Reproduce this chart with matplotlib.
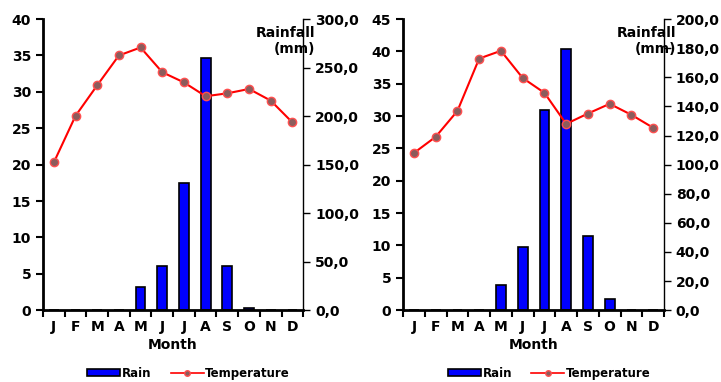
import matplotlib.pyplot as plt
from matplotlib.lines import Line2D
from matplotlib.patches import Patch
import numpy as np

plt.rcParams['font.family'] = ['DejaVu Sans']
plt.rcParams['font.weight'] = 'bold'

months = ['J', 'F', 'M', 'A', 'M', 'J', 'J', 'A', 'S', 'O', 'N', 'D']

# station 1
temp_1 = [20.3, 26.7, 30.9, 35.0, 36.1, 32.7, 31.3, 29.4, 29.8, 30.4, 28.8, 25.8]
rain_1 = [0, 0, 0, 0, 23.4, 45.4, 130.6, 260.0, 45.4, 2.0, 0, 0]

# station 2
temp_2 = [24.3, 26.8, 30.8, 38.9, 40.1, 35.9, 33.6, 28.8, 30.4, 31.9, 30.2, 28.2]
rain_2 = [0, 0, 0, 0, 17.6, 43.5, 137.5, 179.2, 50.9, 8.0, 0, 0]


def draw_panel(fig, rect, temp, rain, tmax, rmax, rstep):
    ax = fig.add_axes(rect)
    ax2 = ax.twinx()
    x = np.arange(len(months))

    ax2.bar(x, rain, width=0.45, color='#0000ff', edgecolor='black', linewidth=1.2, zorder=2)
    ax.plot(x, temp, color='#ff0000', linewidth=1.5, marker='o', markersize=6,
            markerfacecolor='#8c5c5c', markeredgecolor='#ff5050', markeredgewidth=1, zorder=3)
    ax.set_zorder(ax2.get_zorder() + 1)
    ax.patch.set_visible(False)

    ax.set_xlim(-0.5, 11.5)
    ax.set_ylim(0, tmax)
    ax.set_yticks(np.arange(0, tmax + 1, 5))
    ax2.set_ylim(0, rmax)
    ax2.set_yticks(np.arange(0, rmax + 1, rstep))
    ax2.set_yticklabels([f'{v:.1f}'.replace('.', ',') for v in np.arange(0, rmax + 1, rstep)])

    # month names sit between the boundary ticks
    ax.set_xticks(np.arange(-0.5, 12, 1))
    ax.set_xticklabels([])
    ax.set_xticks(x, minor=True)
    ax.set_xticklabels(months, minor=True)
    ax.tick_params(axis='x', which='major', length=5, width=1.5, direction='out')
    ax.tick_params(axis='x', which='minor', length=0, pad=7, labelsize=10)
    ax.tick_params(axis='y', length=5, width=1.5, labelsize=10)
    ax2.tick_params(axis='y', length=5, width=1, labelsize=10)

    for a in (ax, ax2):
        a.spines['top'].set_visible(False)
    ax.spines['right'].set_visible(False)
    ax.spines['left'].set_linewidth(2)
    ax.spines['bottom'].set_linewidth(2)
    ax2.spines['left'].set_visible(False)
    ax2.spines['bottom'].set_visible(False)
    ax2.spines['right'].set_linewidth(1)

    ax.set_xlabel('Month', fontsize=10, fontweight='bold', labelpad=3)
    ax.text(1.045, 0.975, 'Rainfall\n(mm)', transform=ax.transAxes, ha='right', va='top',
            fontsize=10, fontweight='bold', linespacing=1.15)

    handles = [Patch(facecolor='#0000ff', edgecolor='black', linewidth=1.2),
               Line2D([], [], color='#ff0000', linewidth=1.2, marker='o', markersize=4,
                      markerfacecolor='#8c5c5c', markeredgecolor='#ff5050')]
    ax.legend(handles, ['Rain', 'Temperature'], loc='center',
              bbox_to_anchor=(0.56, -0.217), ncol=2, frameon=False, fontsize=8.5,
              handlelength=2.8, handleheight=0.55, columnspacing=1.6, handletextpad=0.15,
              borderpad=0)
    return ax


fig = plt.figure(figsize=(7.21, 3.82), dpi=100)
draw_panel(fig, [0.0596, 0.188, 0.361, 0.762], temp_1, rain_1, 40, 300, 50)
draw_panel(fig, [0.559, 0.188, 0.362, 0.762], temp_2, rain_2, 45, 200, 20)
fig.savefig('out.png', dpi=100)
